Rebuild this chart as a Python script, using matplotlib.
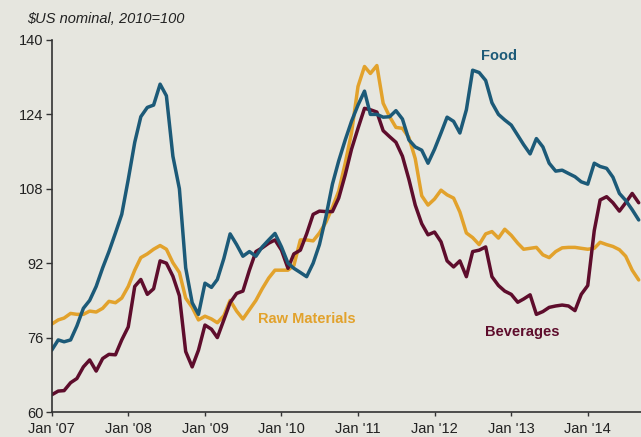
import numpy as np
import pandas as pd
import matplotlib
matplotlib.use("Agg")
import matplotlib.pyplot as plt

# monthly index values, Jan 2007 - Sep 2014
food = [73.3, 75.5, 75.1, 75.5, 78.5, 82.3, 84.0, 87.0, 91.0, 94.5, 98.5, 102.5,
        110.0, 118.0, 123.5, 125.5, 126.0, 130.5, 128.0, 115.0, 108.0, 91.0, 83.5, 81.0,
        87.7, 86.8, 88.5, 93.0, 98.3, 96.0, 93.5, 94.5, 93.5, 95.5, 97.0, 98.4,
        95.5, 92.0, 90.9, 90.0, 89.1, 92.0, 96.0, 102.0, 109.0, 114.0, 118.5, 122.5,
        126.0, 129.0, 124.0, 124.0, 123.4, 123.5, 124.8, 123.0, 118.5, 117.0, 116.3, 113.5,
        116.5, 120.0, 123.4, 122.5, 120.0, 125.0, 133.5, 133.0, 131.3, 126.5, 124.0, 122.8,
        121.7, 119.5, 117.5, 115.5, 118.8, 117.0, 113.5, 111.8, 112.0, 111.3, 110.6, 109.5,
        109.0, 113.5, 112.8, 112.4, 110.5, 107.0, 105.5, 103.5, 101.3]

raw_materials = [78.9, 79.8, 80.2, 81.2, 81.0, 81.0, 81.7, 81.5, 82.3, 83.8, 83.5, 84.5,
                 87.0, 90.5, 93.2, 94.0, 95.0, 95.8, 95.0, 92.1, 90.0, 84.5, 82.5, 79.8,
                 80.6, 80.0, 79.2, 80.7, 84.0, 81.7, 80.0, 82.0, 84.0, 86.5, 88.8, 90.5,
                 90.5, 90.5, 91.5, 97.0, 97.0, 96.8, 98.5, 100.8, 104.0, 107.5, 113.5, 120.0,
                 130.0, 134.3, 132.8, 134.5, 126.4, 123.5, 121.2, 121.0, 119.0, 114.5, 106.5, 104.5,
                 105.8, 107.7, 106.7, 106.0, 103.0, 98.5, 97.5, 96.0, 98.3, 98.8, 97.4, 99.3,
                 98.0, 96.3, 95.0, 95.2, 95.4, 93.8, 93.2, 94.5, 95.3, 95.4, 95.4, 95.2,
                 95.0, 95.2, 96.5, 96.0, 95.6, 94.9, 93.5, 90.5, 88.4]

beverages = [63.7, 64.5, 64.6, 66.3, 67.2, 69.7, 71.2, 68.8, 71.5, 72.4, 72.3, 75.5,
             78.3, 87.0, 88.5, 85.3, 86.5, 92.5, 92.0, 89.2, 85.0, 73.0, 69.7, 73.3,
             78.7, 77.8, 76.0, 79.8, 83.5, 85.5, 86.0, 90.5, 94.5, 95.3, 96.3, 97.0,
             94.8, 90.9, 94.0, 94.8, 98.3, 102.5, 103.2, 103.1, 103.1, 106.0, 111.0, 116.5,
             121.0, 125.3, 125.0, 124.5, 120.5, 119.2, 118.0, 115.0, 110.0, 104.5, 100.5, 98.1,
             98.7, 96.6, 92.5, 91.2, 92.5, 89.1, 94.5, 94.8, 95.5, 89.1, 87.2, 86.0,
             85.3, 83.6, 84.3, 85.2, 81.0, 81.6, 82.5, 82.8, 83.0, 82.8, 81.8, 85.3,
             87.2, 99.0, 105.6, 106.3, 105.0, 103.2, 105.0, 107.0, 105.0]

dates = pd.date_range("2007-01-01", periods=len(food), freq="MS")
years = list(range(2007, 2015))
xtick_labels = ["Jan '07", "Jan '08", "Jan '09", "Jan '10", "Jan '11", "Jan '12", "Jan '13", "Jan '14"]
yticks = [60, 76, 92, 108, 124, 140]

bg = "#e6e6df"
c_food = "#1c5a78"
c_raw = "#e2a22c"
c_bev = "#5e0d2c"

plt.rcParams["font.family"] = ["Liberation Sans", "DejaVu Sans"]

fig = plt.figure(figsize=(6.41, 4.37), dpi=100, facecolor=bg)
ax = fig.add_axes([0.0807, 0.0572, 0.9193, 0.8513])
ax.set_facecolor(bg)

ax.plot(dates, raw_materials, color=c_raw, lw=2.5, solid_capstyle="round")
ax.plot(dates, beverages, color=c_bev, lw=2.5, solid_capstyle="round")
ax.plot(dates, food, color=c_food, lw=2.5, solid_capstyle="round")

ax.set_ylim(60, 140)
ax.set_xlim(pd.Timestamp("2007-01-01"), pd.Timestamp("2014-09-12"))
ax.set_yticks(yticks)
ax.set_xticks([pd.Timestamp(f"{y}-01-01") for y in years])
ax.set_xticklabels(xtick_labels)

for s in ["top", "right"]:
    ax.spines[s].set_visible(False)
for s in ["left", "bottom"]:
    ax.spines[s].set_color("#333333")
    ax.spines[s].set_linewidth(1.2)
ax.tick_params(axis="both", direction="out", length=4, width=1, color="#333333",
               labelsize=10.5, labelcolor="#222222")
ax.tick_params(axis="x", length=3, pad=4.5)
ax.tick_params(axis="y", pad=2)

# series labels
ax.text(pd.Timestamp("2012-08-10"), 136.6, "Food", color=c_food, fontsize=10.5,
        fontweight="bold", ha="left", va="center")
ax.text(pd.Timestamp("2009-09-12"), 79.9, "Raw Materials", color=c_raw, fontsize=10.5,
        fontweight="bold", ha="left", va="center")
ax.text(pd.Timestamp("2012-08-28"), 77.3, "Beverages", color=c_bev, fontsize=10.5,
        fontweight="bold", ha="left", va="center")

fig.text(27 / 641, 1 - 19 / 437, "$US nominal, 2010=100", fontsize=10.5, style="italic",
         color="#222222", ha="left", va="center")

fig.savefig("out.png", dpi=100, facecolor=bg)
